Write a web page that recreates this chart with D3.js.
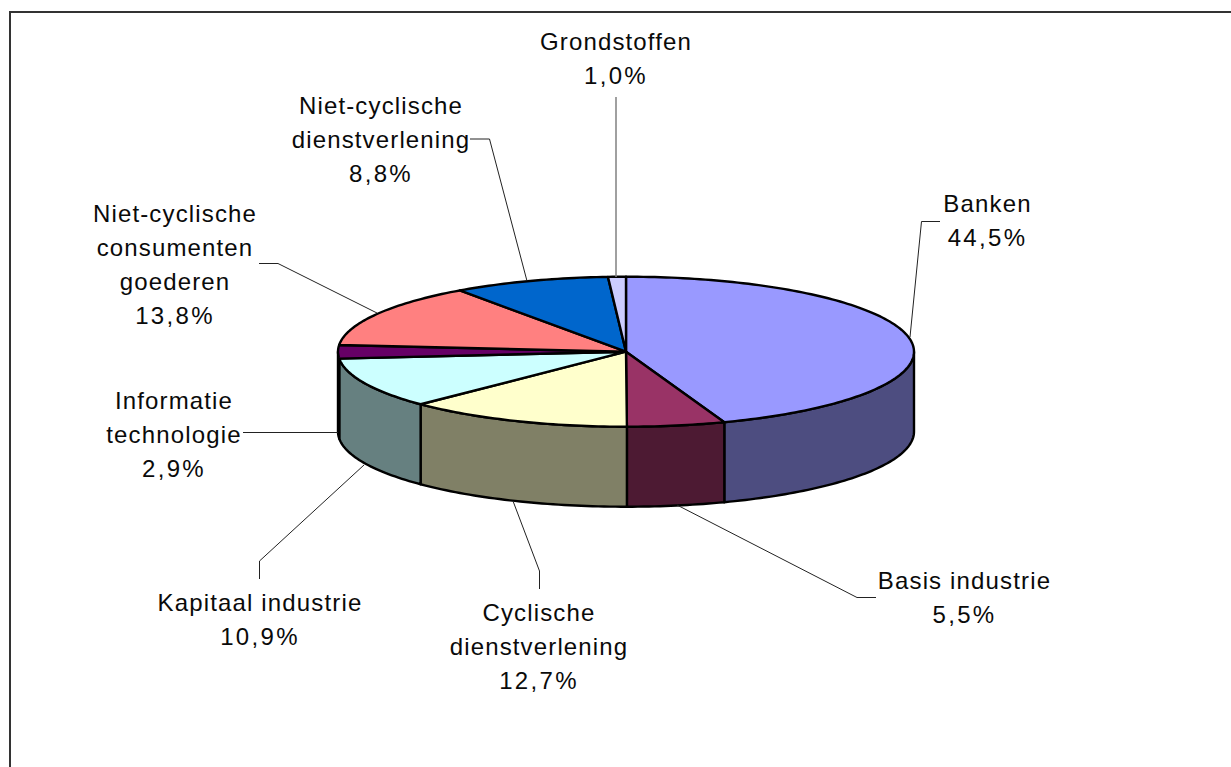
<!DOCTYPE html>
<html>
<head>
<meta charset="utf-8">
<script src="https://d3js.org/d3.v7.min.js"></script>
<style>
  html, body { margin: 0; padding: 0; background: #fff; }
  svg { display: block; }
  text { font-family: "Liberation Sans", sans-serif; font-size: 24px; letter-spacing: 1.15px; fill: #0a0a0a; text-anchor: middle; }
  tspan.share { letter-spacing: 2.3px; }
</style>
</head>
<body>
<div id="chart"></div>
<script>
const categories = ["Banken", "Basis industrie", "Cyclische dienstverlening", "Kapitaal industrie",
  "Informatie technologie", "Niet-cyclische consumenten goederen", "Niet-cyclische dienstverlening", "Grondstoffen"];
const shares = [44.5, 5.5, 12.7, 10.9, 2.9, 13.8, 8.8, 1.0];
const shareLabels = ["44,5%", "5,5%", "12,7%", "10,9%", "2,9%", "13,8%", "8,8%", "1,0%"];
const topColors = ["#9999ff", "#993366", "#ffffcc", "#ccffff", "#660066", "#ff8080", "#0066cc", "#ccccff"];
const wallColors = ["#4d4d80", "#4d1a33", "#808066", "#668080", "#330033", "#804040", "#003366", "#666680"];

// how each label is broken over lines, same order as categories
const labelLines = [
  ["Banken"],
  ["Basis industrie"],
  ["Cyclische", "dienstverlening"],
  ["Kapitaal industrie"],
  ["Informatie", "technologie"],
  ["Niet-cyclische", "consumenten", "goederen"],
  ["Niet-cyclische", "dienstverlening"],
  ["Grondstoffen"]
];

// label placement: centre x and first baseline
const labelPos = [[987.5, 212], [964.5, 589], [539, 621], [260, 611], [174, 409], [175, 222], [381, 114], [616, 50]];

// leader lines run from the label to the edge of the pie
const leaders = [
  [[940, 221.5], [921.5, 221.5], [910, 337]],
  [[876, 597.5], [857, 597.5], [677, 505]],
  [[539.5, 589], [539.5, 571], [513, 501]],
  [[259.5, 579], [259.5, 561], [364, 465]],
  [[243, 432.5], [338, 432.5]],
  [[259, 263.5], [278, 263.5], [377, 313]],
  [[470, 139], [489.5, 139], [527, 281]],
  [[616, 97], [616, 277]]
];

const width = 1231, height = 767;
const depth = 80;

const svg = d3.select("#chart").append("svg")
  .attr("width", width)
  .attr("height", height);

// outer frame, the right and bottom sides fall outside the picture
svg.append("path")
  .attr("d", "M10,767V12H1231")
  .attr("fill", "none")
  .attr("stroke", "#333")
  .attr("stroke-width", 2);

const xScale = d3.scaleLinear().domain([-1, 1]).range([338, 914]);
const yScale = d3.scaleLinear().domain([-1, 1]).range([276.7, 426.7]);

const slices = d3.pie().sort(null).value(d => d)(shares);

const rimPoints = (a0, a1) => {
  const n = Math.max(2, Math.ceil((a1 - a0) / 0.02));
  return d3.range(n + 1).map(i => a0 + (a1 - a0) * i / n);
};

const rim = d3.line()
  .x(a => xScale(Math.sin(a)))
  .y(a => yScale(-Math.cos(a)));

const rimLow = d3.line()
  .x(a => xScale(Math.sin(a)))
  .y(a => yScale(-Math.cos(a)) + depth);

// side walls, only the front half of the pie shows them
const front = slices
  .map((s, i) => ({
    i,
    a0: Math.max(s.startAngle, Math.PI / 2),
    a1: Math.min(s.endAngle, Math.PI * 1.5)
  }))
  .filter(d => d.a1 > d.a0);

svg.selectAll(".wall")
  .data(front)
  .enter()
  .append("path")
  .attr("class", "wall")
  .attr("d", d => {
    const pts = rimPoints(d.a0, d.a1);
    return rim(pts) + "L" + rimLow(pts.slice().reverse()).slice(1) + "Z";
  })
  .attr("fill", d => wallColors[d.i])
  .attr("stroke", "#000")
  .attr("stroke-width", 2.4)
  .attr("stroke-linejoin", "round");

// top face
svg.selectAll(".slice")
  .data(slices)
  .enter()
  .append("path")
  .attr("class", "slice")
  .attr("d", s => `M${xScale(0)},${yScale(0)}L` + rim(rimPoints(s.startAngle, s.endAngle)).slice(1) + "Z")
  .attr("fill", (s, i) => topColors[i])
  .attr("stroke", "#000")
  .attr("stroke-width", 2.4)
  .attr("stroke-linejoin", "round");

const leaderLine = d3.line();

svg.selectAll(".leader")
  .data(leaders)
  .enter()
  .append("path")
  .attr("class", "leader")
  .attr("d", leaderLine)
  .attr("fill", "none")
  .attr("stroke", (d, i) => i === 7 ? "#808080" : "#222")
  .attr("stroke-width", (d, i) => i === 7 ? 1.5 : 1);

const labels = svg.selectAll(".label")
  .data(categories)
  .enter()
  .append("text")
  .attr("class", "label");

labels.selectAll("tspan")
  .data((d, i) => labelLines[i].map(t => ({ t, i, share: false }))
    .concat({ t: shareLabels[i], i, share: true }))
  .enter()
  .append("tspan")
  .attr("class", d => d.share ? "share" : null)
  .attr("x", d => labelPos[d.i][0])
  .attr("y", (d, j) => labelPos[d.i][1] + j * 34)
  .text(d => d.t);
</script>
</body>
</html>
